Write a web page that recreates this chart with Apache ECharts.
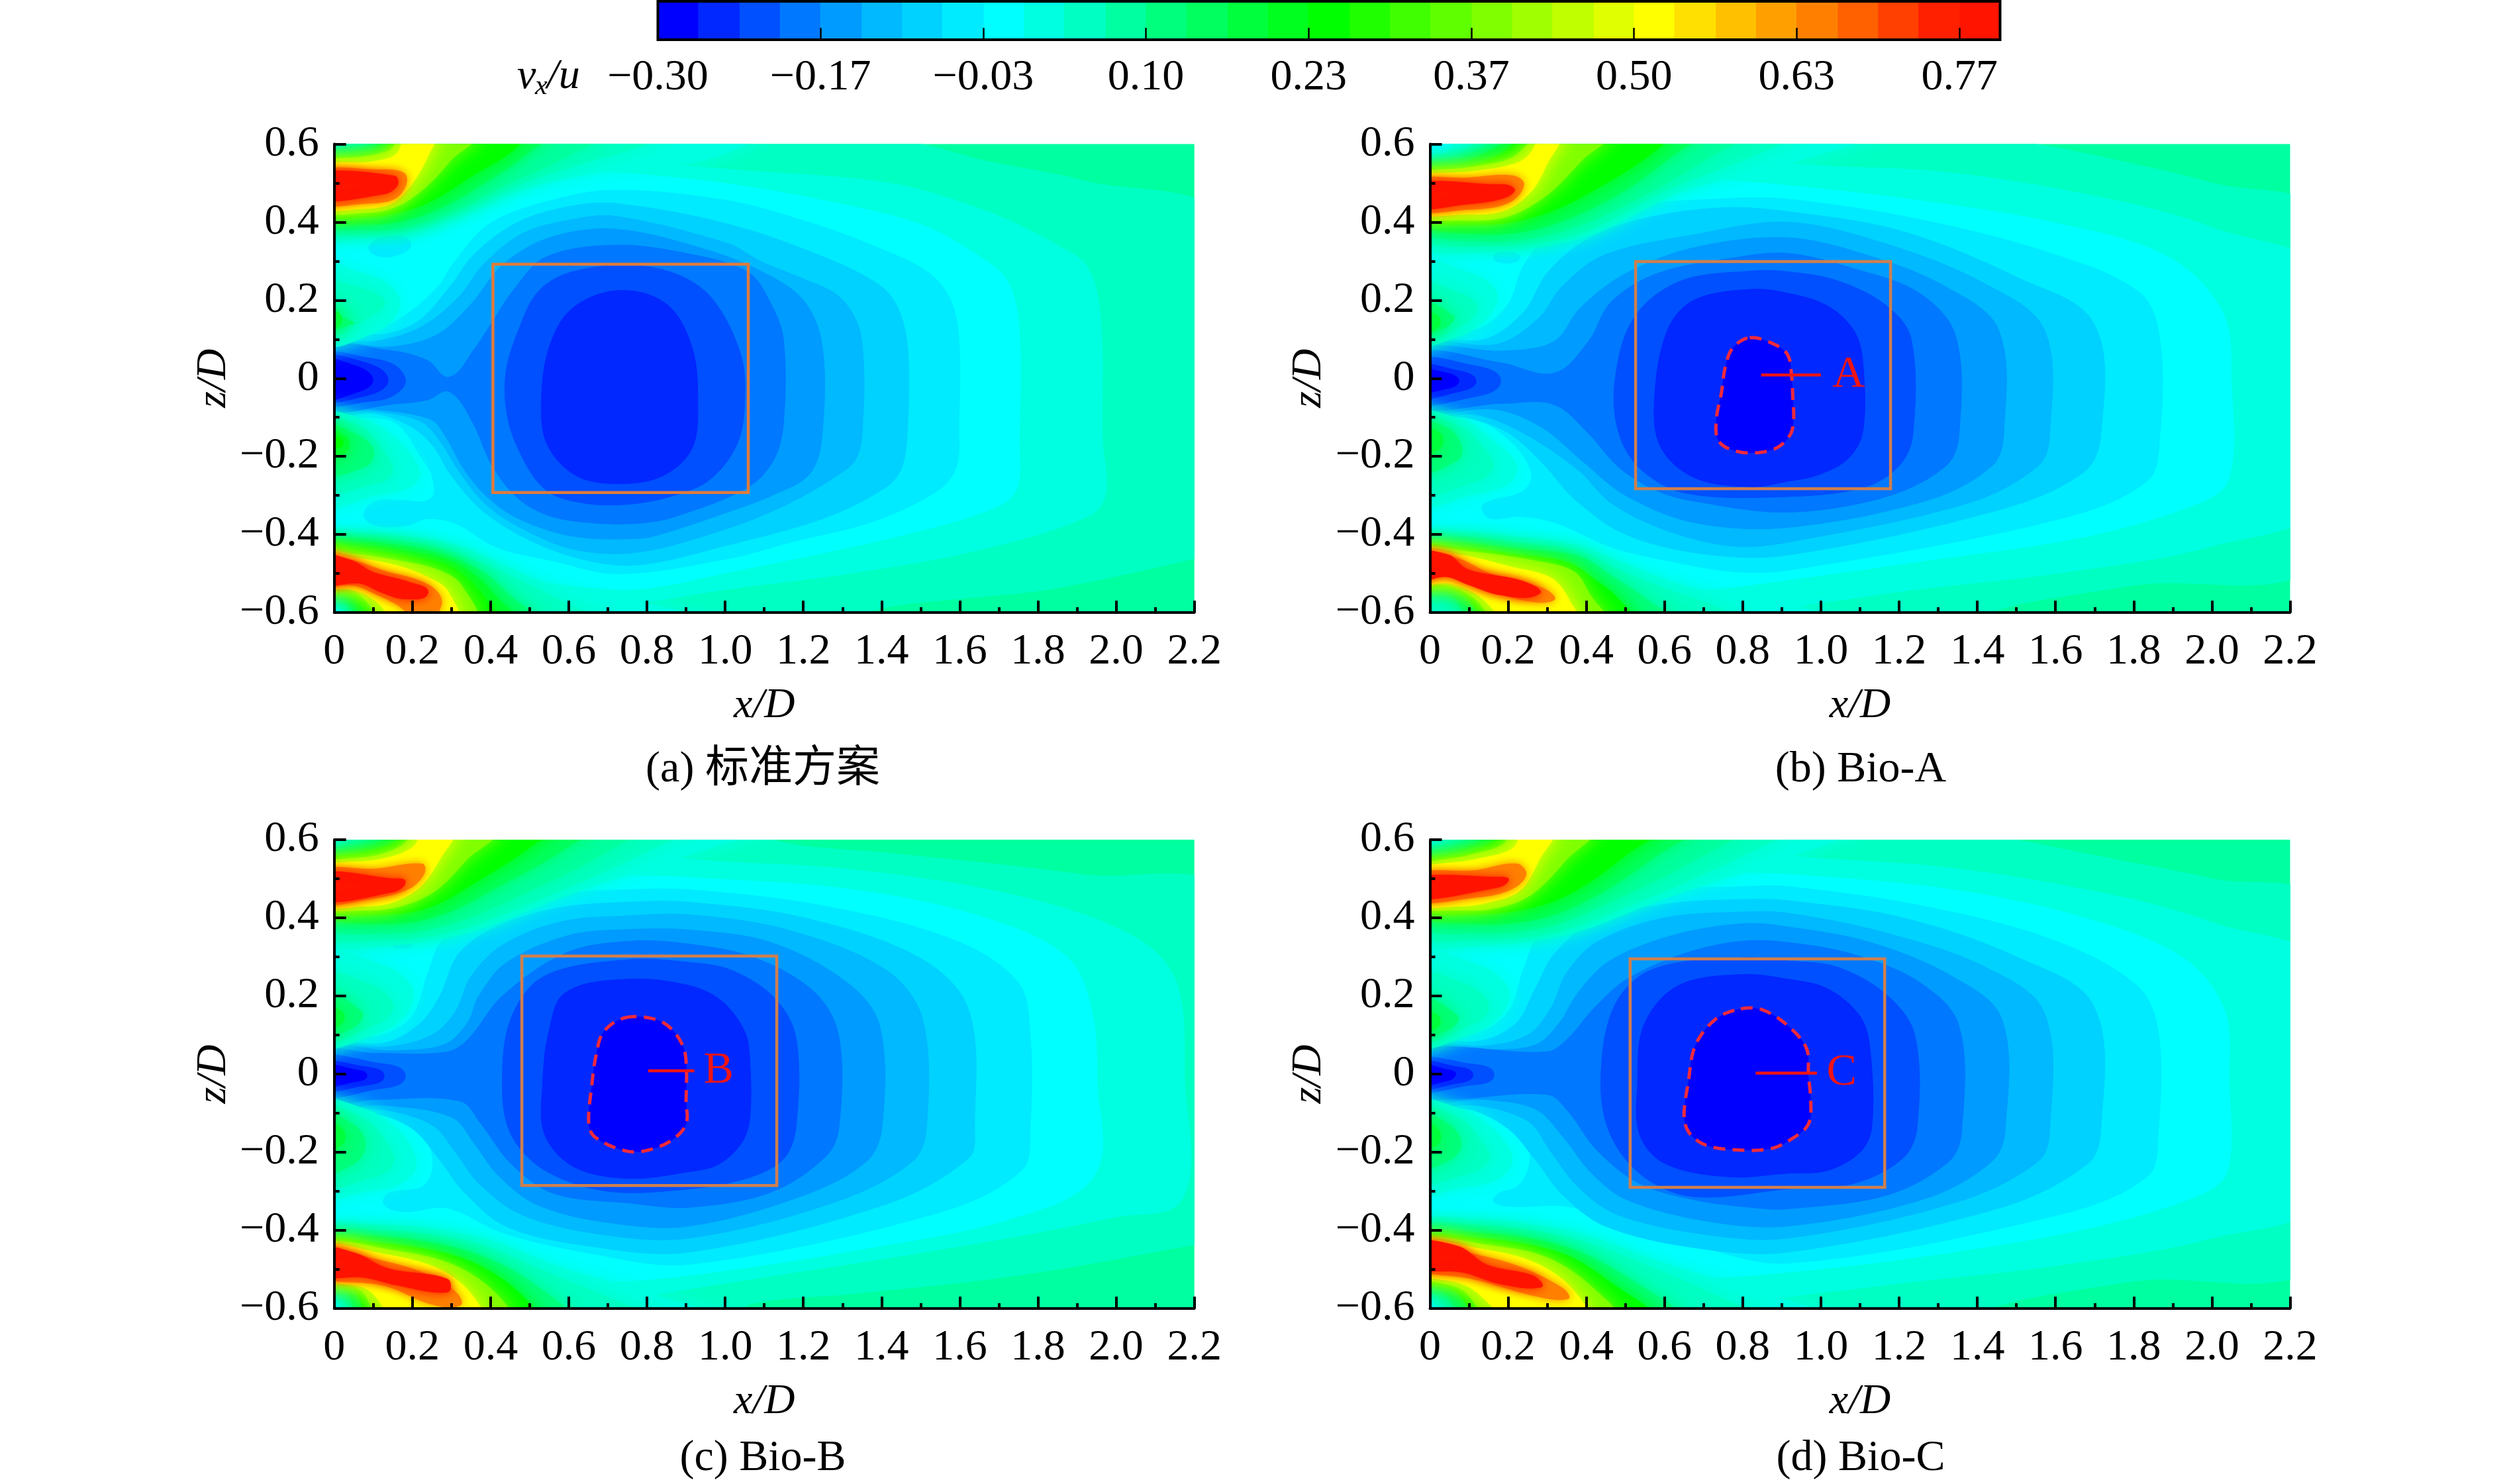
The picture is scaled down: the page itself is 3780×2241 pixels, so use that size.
<!DOCTYPE html>
<html><head><meta charset="utf-8"><style>html,body{margin:0;background:#fff}#c{width:3780px;height:2241px}</style>
<script src="https://cdn.jsdelivr.net/npm/echarts@6/dist/echarts.min.js"></script></head><body><div id="c"></div>
<script>
// colour of each contour level, lowest (-0.30) to highest
const levelColors=['#0000ff','#0028ff','#0050ff','#0078ff','#009bff','#00b9ff','#00d2ff','#00ebff','#00ffff','#00ffe1','#00ffc3','#00ffa0','#00ff7d','#00ff5f','#00ff3c','#00ff1e','#00ff00','#20ff00','#40ff00','#60ff00','#80ff00','#a0ff00','#c0ff00','#e0ff00','#ffff00','#ffe000','#ffc000','#ffa000','#ff8000','#ff6000','#ff4000','#ff2000','#ff1400'];
const cbLevels=[-0.30,-0.267,-0.233,-0.2,-0.167,-0.133,-0.1,-0.067,-0.033,0,0.033,0.067,0.1,0.133,0.167,0.2,0.233,0.267,0.3,0.333,0.367,0.4,0.433,0.467,0.5,0.533,0.567,0.6,0.633,0.667,0.7,0.733,0.767];
const cbTop=0.8;
const cbTicks=[-0.1667,-0.0333,0.1,0.2333,0.3667,0.5,0.6333,0.7667];
const cbLabels=[-0.30,-0.1667,-0.0333,0.1,0.2333,0.3667,0.5,0.6333,0.7667];
const captions=['(a) 标准方案','(b) Bio-A','(c) Bio-B','(d) Bio-C'];
// contour bands: [level, x,z, x,z, ...] in x/D, z/D, painted in order
const bandsA=[
[10,2.3,.38,1.912,.507,1.665,.557,1.5,.6,1.25,.64,-.05,.66,-.05,-.66,1.25,-.63,1.42,-.585,1.583,-.566,1.83,-.54,2.2,-.462,2.3,-.43],
[9,-.05,.66,.4,.62,.7,.565,1.008,.535,1.419,.5,1.665,.429,1.846,.343,1.928,.282,1.961,.144,1.965,-.159,1.974,-.289,1.937,-.349,1.665,-.436,1.337,-.497,1.008,-.54,.78,-.575,.5,-.6,.3,-.64,-.05,-.66],
[8,-.05,.64,.1,.64,.3,.58,.5,.54,.75,.525,1.008,.498,1.254,.455,1.5,.394,1.657,.308,1.723,.247,1.752,.126,1.752,-.159,1.743,-.289,1.665,-.341,1.419,-.41,1.008,-.497,.78,-.54,.6,-.53,.4,-.5,.2,-.5,0,-.64,-.05,-.64],
[7,0,.095,.12,.13,.2,.175,.27,.24,.3,.288,.396,.395,.552,.455,.72,.482,1.008,.455,1.213,.4,1.378,.34,1.517,.273,1.575,.204,1.598,.1,1.598,-.116,1.591,-.228,1.542,-.289,1.378,-.367,1.172,-.419,1.008,-.462,.726,-.501,.556,-.467,.415,-.433,.308,-.371,.234,-.36,.189,-.377,.105,-.377,.076,-.349,.105,-.315,.161,-.312,.246,-.309,.251,-.253,.218,-.196,.161,-.117,.08,-.1,0,-.097],
[6,0,.09,.14,.115,.22,.15,.3,.24,.36,.32,.47,.4,.6,.44,.72,.448,1.008,.395,1.254,.31,1.394,.239,1.443,.178,1.467,.074,1.467,-.116,1.452,-.228,1.41,-.28,1.254,-.358,1.008,-.427,.78,-.478,.64,-.465,.5,-.415,.38,-.34,.3,-.25,.25,-.17,.19,-.12,.1,-.09,0,-.09],
[5,0,.083,.104,.095,.22,.13,.32,.21,.38,.29,.48,.37,.6,.405,.72,.415,1.008,.345,1.09,.3,1.197,.256,1.287,.213,1.337,.144,1.353,.057,1.353,-.09,1.337,-.202,1.279,-.254,1.156,-.324,1.008,-.384,.782,-.445,.62,-.44,.49,-.39,.39,-.325,.32,-.24,.27,-.16,.22,-.11,.1,-.085,0,-.085],
[4,0,.08,.14,.08,.26,.11,.35,.19,.43,.29,.55,.36,.72,.382,.95,.33,1.1,.27,1.2,.2,1.247,.09,1.25,-.12,1.22,-.24,1.12,-.3,1,-.345,.85,-.395,.782,-.41,.613,-.405,.472,-.36,.387,-.3,.33,-.23,.285,-.15,.246,-.105,.1,-.08,0,-.078],
[3,.294,.003,.357,.073,.406,.147,.454,.22,.54,.31,.72,.341,.9,.32,1.057,.273,1.115,.195,1.149,.1,1.149,-.116,1.123,-.211,1.057,-.28,.873,-.354,.782,-.371,.67,-.371,.556,-.354,.472,-.309,.404,-.224,.353,-.111,.294,-.034,.24,-.055,.172,-.064,0,-.07,0,.073,.15,.07,.24,.045],
[2,.75,.29,.88,.265,.97,.2,1.04,.06,1.05,-.06,1.03,-.17,.96,-.26,.87,-.3,.76,-.322,.64,-.32,.54,-.285,.47,-.18,.44,-.08,.44,.02,.47,.12,.52,.22,.6,.27],
[1,.73,.225,.85,.19,.915,.08,.93,-.06,.915,-.18,.84,-.25,.73,-.27,.62,-.25,.545,-.17,.53,-.06,.55,.08,.61,.18],
[2,0,.056,.1,.05,.16,.03,.182,-.01,.15,-.045,.1,-.058,0,-.058],
[1,0,.05,.08,.04,.138,-.005,.08,-.045,0,-.05],
[0,0,.045,.06,.03,.099,-.005,.06,-.035,0,-.053],
[7,.09,.34,.14,.368,.196,.345,.15,.312,.1,.318],
[9,0,.095,.11,.12,.167,.185,.14,.24,.05,.275,0,.3],[10,0,.11,.11,.168,.127,.2,.054,.235,0,.242],[12,0,.12,.05,.14,.037,.15,0,.18],[14,0,.125,.02,.15,0,.18],
[9,0,-.1,.076,-.106,.161,-.157,.218,-.236,.2,-.275,.105,-.3,0,-.32],[10,0,-.11,.06,-.12,.12,-.18,.15,-.24,.105,-.27,0,-.28],[12,0,-.12,.048,-.14,.099,-.18,.082,-.225,0,-.24],[14,0,-.13,.03,-.15,.03,-.19,0,-.21],[16,0,-.14,.018,-.155,.018,-.175,0,-.18],
[9,0,.565,.03,.59,.06,.64,1.1,.64,.95,.56,.7,.53,.5,.49,.33,.42,.2,.375,.1,.365,0,.37],
[10,0,.56,.02,.585,.09,.64,.85,.64,.8,.6,.65,.555,.47,.495,.33,.43,.2,.382,.1,.372,0,.39],
[11,0,.555,.03,.575,.09,.6,.12,.64,.7,.64,.6,.57,.45,.5,.33,.44,.2,.39,.1,.38,0,.41],
[13,0,.55,.05,.57,.1,.585,.14,.64,.56,.64,.5,.58,.4,.51,.3,.45,.2,.41,.1,.395,0,.42],
[16,0,.545,.06,.565,.13,.58,.16,.64,.49,.64,.464,.589,.347,.515,.26,.46,.2,.435,.1,.415,0,.43],
[20,0,.54,.09,.57,.15,.59,.17,.64,.37,.64,.3,.56,.24,.495,.17,.445,.09,.425,0,.438],
[24,0,.534,.1,.555,.16,.575,.19,.64,.26,.64,.24,.57,.2,.5,.15,.45,.08,.435,0,.445],
[28,0,.526,.11,.534,.178,.526,.184,.497,.155,.46,.082,.448,0,.452],
[32,0,.522,.155,.518,.161,.493,.127,.472,0,.46],
[9,0,-.422,.076,-.402,.218,-.41,.33,-.433,.444,-.484,.556,-.53,.726,-.569,.839,-.586,1,-.64,.06,-.64,.03,-.6,0,-.555],
[10,0,-.43,.07,-.41,.22,-.425,.33,-.455,.46,-.51,.6,-.58,.72,-.64,.07,-.64,.02,-.56,0,-.55],
[12,0,-.436,.06,-.42,.218,-.436,.308,-.462,.387,-.501,.444,-.552,.528,-.64,.082,-.64,.025,-.552,0,-.54],
[14,0,-.438,.058,-.428,.218,-.448,.3,-.47,.37,-.512,.42,-.565,.48,-.64,.1,-.64,.036,-.552,0,-.538],
[16,0,-.44,.054,-.436,.218,-.461,.291,-.479,.353,-.524,.398,-.58,.44,-.64,.13,-.64,.048,-.552,.02,-.535,0,-.535],
[20,0,-.444,.048,-.45,.161,-.467,.263,-.49,.325,-.53,.36,-.64,.144,-.64,.076,-.563,.025,-.535,0,-.532],
[24,0,-.449,.048,-.459,.161,-.48,.246,-.513,.291,-.546,.314,-.64,.178,-.64,.105,-.569,.048,-.541,0,-.529],
[28,0,-.453,.048,-.467,.133,-.495,.217,-.518,.263,-.546,.274,-.58,.235,-.63,.161,-.58,.105,-.552,.048,-.53,0,-.527],
[32,0,-.455,.04,-.465,.10,-.497,.19,-.522,.24,-.55,.18,-.565,.12,-.548,.065,-.525,0,-.525]
];
const bandsB=[
[10,2.3,.4,2,.5,1.75,.56,1.55,.6,1.3,.64,-.05,.66,-.05,-.66,1.3,-.64,1.5,-.58,1.8,-.53,2.3,-.44],
[9,-.05,.66,.3,.66,.5,.6,.915,.55,1.336,.526,1.757,.455,2.01,.383,2.3,.25,2.3,-.3,2,-.43,1.6,-.5,1.25,-.54,.915,-.585,.5,-.62,-.05,-.66],
[8,-.05,.64,.1,.64,.3,.58,.5,.52,.7,.51,.915,.494,1.252,.455,1.589,.4,1.884,.313,2.027,.17,2.05,-.019,2.044,-.256,1.968,-.319,1.674,-.406,1.252,-.469,.915,-.516,.7,-.54,.5,-.52,.35,-.5,.2,-.5,0,-.64,-.05,-.64],
[7,0,.09,.12,.125,.2,.19,.24,.29,.33,.39,.5,.44,.75,.46,.915,.459,1.252,.407,1.589,.32,1.817,.218,1.867,.099,1.867,-.145,1.834,-.264,1.589,-.366,.915,-.492,.774,-.495,.605,-.467,.464,-.433,.323,-.371,.232,-.354,.153,-.359,.133,-.331,.153,-.314,.232,-.292,.26,-.252,.227,-.184,.153,-.122,.08,-.1,0,-.095],
[6,0,.085,.14,.1,.24,.17,.3,.27,.4,.355,.55,.41,.75,.437,.915,.427,1.21,.376,1.505,.257,1.699,.139,1.716,-.145,1.673,-.24,1.463,-.335,.915,-.453,.7,-.45,.5,-.4,.37,-.31,.29,-.22,.2,-.14,.09,-.1,0,-.085],
[5,0,.08,.171,.087,.278,.154,.337,.234,.444,.315,.677,.368,.915,.4,1.168,.344,1.42,.242,1.572,.123,1.585,-.145,1.556,-.224,1.379,-.319,.915,-.42,.774,-.43,.605,-.39,.464,-.32,.379,-.235,.24,-.141,.123,-.094,0,-.08],
[4,0,.067,.19,.07,.317,.094,.385,.181,.5,.268,.677,.335,.915,.36,1.126,.313,1.32,.234,1.455,.123,1.467,-.145,1.438,-.224,1.278,-.311,.915,-.382,.677,-.37,.5,-.3,.385,-.208,.288,-.127,.171,-.08,0,-.074],
[3,.317,.013,.405,.094,.463,.195,.58,.268,.774,.308,.915,.32,1.084,.281,1.252,.218,1.345,.107,1.353,-.145,1.32,-.224,1.168,-.303,.915,-.343,.677,-.315,.58,-.288,.483,-.228,.405,-.141,.317,-.067,.191,-.064,0,-.067,0,.06,.18,.04],
[2,.823,.275,.915,.273,1.042,.25,1.168,.186,1.231,.1,1.235,-.145,1.2,-.224,1.109,-.28,.915,-.303,.657,-.295,.541,-.235,.483,-.141,.473,-.007,.521,.154,.638,.248],
[1,.823,.228,.915,.218,1.016,.186,1.084,.123,1.107,.044,1.107,-.137,1.067,-.208,.991,-.248,.915,-.264,.823,-.278,.677,-.255,.589,-.174,.575,-.04,.609,.127,.677,.201],
[2,0,.043,.1,.035,.181,-.007,.1,-.05,0,-.057],[1,0,.03,.07,.02,.118,-.007,.07,-.035,0,-.047],[0,0,.02,.05,.012,.074,-.007,.05,-.025,0,-.034],
[7,.162,.31,.195,.325,.23,.31,.195,.295],
[9,0,.095,.08,.11,.15,.16,.17,.22,.1,.27,0,.29],[10,0,.105,.07,.13,.12,.18,.07,.22,0,.24],[12,0,.11,.04,.13,.06,.16,0,.2],[14,0,.115,.02,.13,.02,.16,0,.175],
[9,0,-.1,.08,-.105,.16,-.16,.22,-.22,.2,-.27,.1,-.3,0,-.32],[10,0,-.105,.07,-.12,.13,-.17,.16,-.23,.1,-.27,0,-.29],[12,0,-.115,.04,-.125,.08,-.17,.07,-.21,0,-.24],[14,0,-.125,.025,-.14,.025,-.18,0,-.2],
[9,0,.535,.03,.565,.1,.64,1.15,.64,.95,.56,.65,.48,.4,.365,.15,.325,0,.35],
[10,0,.53,.05,.56,.14,.62,.16,.64,.95,.64,.85,.58,.6,.48,.38,.37,.15,.34,0,.37],
[11,0,.525,.06,.555,.16,.61,.19,.64,.82,.64,.72,.57,.55,.47,.35,.38,.15,.35,0,.395],
[13,0,.52,.08,.55,.18,.6,.21,.64,.7,.64,.62,.57,.48,.47,.3,.39,.14,.37,0,.41],
[16,0,.515,.09,.54,.2,.585,.235,.64,.62,.64,.58,.586,.434,.49,.288,.42,.142,.395,0,.42],
[20,0,.51,.1,.54,.2,.56,.25,.6,.27,.64,.46,.64,.39,.56,.3,.47,.2,.415,.09,.405,0,.425],
[24,0,.506,.113,.53,.22,.55,.26,.58,.29,.64,.34,.64,.3,.55,.26,.48,.19,.43,.09,.42,0,.43],
[28,0,.503,.093,.513,.21,.519,.24,.496,.2,.449,.093,.432,0,.435],
[32,0,.496,.16,.496,.215,.486,.19,.462,.094,.446,0,.439],
[9,0,-.415,.063,-.395,.21,-.405,.379,-.43,.5,-.475,.63,-.525,.78,-.56,.93,-.58,1.05,-.64,.015,-.64,0,-.56],
[10,0,-.424,.063,-.405,.21,-.419,.379,-.444,.492,-.495,.605,-.54,.718,-.58,.83,-.64,.03,-.64,0,-.55],
[12,0,-.436,.063,-.421,.21,-.436,.379,-.455,.464,-.506,.549,-.563,.633,-.64,.12,-.64,.052,-.551,0,-.535],
[16,0,-.438,.069,-.433,.21,-.45,.351,-.472,.424,-.518,.48,-.563,.526,-.64,.159,-.64,.097,-.563,.04,-.534,0,-.53],
[20,0,-.441,.097,-.444,.266,-.467,.368,-.495,.407,-.551,.452,-.64,.187,-.64,.114,-.563,.04,-.529,0,-.525],
[24,0,-.444,.08,-.453,.21,-.484,.311,-.512,.356,-.568,.379,-.64,.22,-.64,.125,-.557,.052,-.526,0,-.52],
[28,0,-.45,.069,-.461,.153,-.5,.294,-.54,.317,-.568,.238,-.568,.142,-.54,.04,-.505,0,-.518],
[32,0,-.45,.046,-.452,.097,-.49,.238,-.52,.28,-.552,.181,-.555,.097,-.528,.04,-.508,0,-.52]
];
const bandsC=[
[10,2.3,.44,1.918,.51,1.412,.566,1.16,.59,1,.64,-.05,.66,-.05,-.66,.95,-.64,1.075,-.586,1.328,-.562,1.749,-.515,2.2,-.436,2.3,-.41],
[9,-.05,.66,.3,.66,.5,.6,.907,.55,1.328,.523,1.749,.456,2.044,.353,2.154,.235,2.175,-.018,2.17,-.318,2.002,-.365,1.581,-.444,.907,-.55,.5,-.62,-.05,-.66],
[8,-.05,.64,.1,.64,.3,.58,.5,.52,.7,.51,.907,.503,1.328,.472,1.665,.4,1.876,.298,1.939,.156,1.951,-.018,1.947,-.255,1.749,-.365,1.328,-.452,.907,-.515,.7,-.53,.5,-.51,.35,-.49,.2,-.5,0,-.64,-.05,-.64],
[7,0,.075,.12,.1,.2,.15,.24,.26,.28,.35,.38,.42,.55,.46,.75,.472,.907,.472,1.244,.432,1.581,.345,1.749,.235,1.78,.1,1.78,-.136,1.758,-.247,1.539,-.357,.907,-.487,.646,-.457,.43,-.406,.29,-.343,.182,-.352,.128,-.335,.138,-.305,.225,-.288,.252,-.238,.236,-.17,.16,-.086,0,-.085],
[6,0,.07,.13,.08,.22,.13,.27,.2,.32,.31,.42,.38,.57,.425,.75,.44,.907,.44,1.202,.4,1.497,.298,1.623,.164,1.638,-.136,1.623,-.215,1.412,-.333,.907,-.456,.65,-.44,.44,-.39,.33,-.3,.27,-.22,.2,-.14,.1,-.1,0,-.085],
[5,0,.065,.14,.07,.25,.1,.31,.16,.35,.25,.43,.33,.58,.39,.75,.405,.907,.408,1.16,.369,1.412,.266,1.505,.14,1.515,-.136,1.48,-.223,1.286,-.326,.907,-.42,.68,-.41,.48,-.36,.37,-.28,.31,-.2,.25,-.13,.12,-.09,0,-.08],
[4,0,.06,.15,.06,.28,.075,.34,.13,.37,.2,.44,.285,.6,.355,.75,.37,.907,.369,1.117,.337,1.311,.235,1.395,.124,1.401,-.136,1.362,-.223,1.202,-.31,.907,-.389,.7,-.38,.52,-.335,.42,-.26,.36,-.18,.3,-.11,.13,-.08,0,-.075],
[3,0,.053,.106,.053,.29,.057,.344,.091,.43,.2,.592,.31,.754,.34,.907,.333,1.075,.298,1.227,.211,1.29,.1,1.292,-.128,1.261,-.207,1.118,-.302,.907,-.341,.754,-.33,.56,-.305,.452,-.229,.376,-.128,.322,-.069,.106,-.065,0,-.069],
[2,.754,.293,.907,.286,1.016,.266,1.126,.195,1.181,.093,1.182,-.128,1.151,-.215,1.058,-.266,.907,-.294,.7,-.3,.538,-.246,.452,-.154,.43,-.027,.452,.142,.538,.251],
[1,.754,.243,.907,.227,.991,.187,1.05,.109,1.063,.037,1.063,-.112,1.042,-.176,.983,-.231,.907,-.25,.754,-.267,.614,-.238,.538,-.154,.533,-.027,.549,.108,.592,.209],
[2,0,.039,.1,.03,.182,-.005,.1,-.04,0,-.052],[1,0,.028,.07,.02,.128,-.005,.07,-.03,0,-.04],[0,0,.023,.05,.012,.084,-.004,.05,-.02,0,-.031],
[7,.15,.33,.18,.34,.2,.33,.18,.322],
[9,0,.08,.1,.1,.18,.15,.2,.22,.12,.28,0,.3],[10,0,.09,.09,.12,.15,.17,.09,.23,0,.25],[12,0,.1,.05,.12,.07,.16,0,.21],[14,0,.105,.02,.13,.02,.16,0,.18],
[9,0,-.08,.08,-.09,.17,-.15,.21,-.23,.17,-.28,.08,-.3,0,-.31],[10,0,-.09,.07,-.11,.13,-.17,.15,-.23,.08,-.27,0,-.28],[12,0,-.1,.05,-.13,.08,-.18,.05,-.23,0,-.25],[14,0,-.11,.02,-.14,.02,-.18,0,-.2],
[9,0,.55,.02,.59,.07,.64,1.1,.64,.9,.56,.6,.46,.35,.365,.14,.33,0,.345],
[10,0,.545,.03,.585,.1,.64,.9,.64,.78,.56,.53,.45,.32,.37,.14,.345,0,.365],
[11,0,.54,.05,.58,.13,.62,.14,.64,.78,.64,.68,.56,.48,.46,.3,.385,.14,.36,0,.39],
[13,0,.535,.07,.575,.15,.61,.17,.64,.66,.64,.58,.57,.42,.48,.28,.41,.14,.385,0,.42],
[16,0,.53,.09,.57,.17,.6,.2,.64,.56,.64,.5,.58,.36,.49,.25,.43,.14,.41,0,.43],
[20,0,.525,.11,.56,.18,.59,.21,.64,.42,.64,.34,.55,.26,.47,.17,.43,.08,.42,0,.435],
[24,0,.52,.12,.55,.2,.58,.24,.64,.31,.64,.27,.55,.22,.48,.15,.44,.08,.43,0,.437],
[28,0,.517,.106,.525,.225,.538,.23,.513,.192,.475,.095,.449,0,.441],
[32,0,.512,.149,.5,.182,.492,.149,.466,0,.445],
[9,0,-.405,.1,-.385,.36,-.415,.58,-.495,.8,-.56,1,-.64,.03,-.64,.01,-.58,0,-.555],
[10,0,-.42,.1,-.4,.35,-.43,.55,-.51,.72,-.58,.85,-.64,.05,-.64,.02,-.57,0,-.545],
[12,0,-.43,.1,-.415,.33,-.45,.5,-.53,.6,-.64,.07,-.64,.03,-.55,0,-.53],
[16,0,-.434,.106,-.432,.322,-.47,.462,-.55,.516,-.64,.1,-.64,.05,-.55,0,-.525],
[20,0,-.436,.16,-.453,.311,-.491,.419,-.567,.452,-.64,.13,-.64,.065,-.55,0,-.52],
[24,0,-.44,.128,-.461,.268,-.499,.354,-.567,.376,-.64,.17,-.64,.084,-.55,0,-.516],
[28,0,-.444,.106,-.474,.225,-.508,.311,-.558,.322,-.592,.246,-.588,.128,-.541,0,-.512],
[32,0,-.445,.052,-.458,.138,-.498,.29,-.525,.29,-.558,.16,-.54,.074,-.52,0,-.512]
];
const bandsD=[
[10,2.3,.42,2,.5,1.75,.55,1.5,.6,1.3,.64,-.05,.66,-.05,-.66,1.3,-.64,1.5,-.58,1.8,-.53,2.3,-.45],
[9,-.05,.66,.3,.66,.5,.6,.915,.558,1.336,.527,1.757,.456,2.01,.385,2.3,.26,2.3,-.3,2,-.42,1.6,-.49,1.25,-.53,.915,-.57,.5,-.62,-.05,-.66],
[8,-.05,.64,.1,.64,.3,.58,.5,.525,.7,.515,.915,.511,1.336,.472,1.673,.4,1.926,.298,2.032,.164,2.044,-.018,2.04,-.247,1.968,-.31,1.673,-.397,1.252,-.468,.915,-.507,.7,-.52,.5,-.5,.35,-.48,.2,-.5,0,-.64,-.05,-.64],
[7,0,.08,.12,.105,.2,.16,.24,.27,.28,.36,.38,.43,.58,.47,.8,.48,.915,.48,1.252,.432,1.589,.345,1.808,.227,1.863,.108,1.863,-.144,1.834,-.263,1.589,-.365,.915,-.484,.655,-.432,.472,-.381,.353,-.339,.212,-.339,.164,-.327,.175,-.305,.223,-.288,.25,-.246,.255,-.196,.223,-.112,.1,-.09,0,-.085],
[6,0,.072,.13,.085,.22,.13,.27,.22,.32,.31,.42,.39,.6,.435,.8,.447,.915,.444,1.21,.4,1.505,.298,1.699,.172,1.716,-.144,1.682,-.23,1.463,-.341,.915,-.456,.68,-.445,.45,-.39,.34,-.31,.27,-.22,.2,-.14,.1,-.09,0,-.075],
[5,0,.067,.14,.072,.25,.1,.31,.17,.35,.26,.43,.34,.6,.4,.8,.415,.915,.412,1.168,.361,1.42,.274,1.572,.156,1.585,-.144,1.556,-.223,1.353,-.326,.915,-.42,.7,-.41,.48,-.36,.38,-.29,.31,-.2,.25,-.12,.12,-.08,0,-.07],
[4,0,.062,.15,.062,.27,.075,.33,.13,.38,.21,.46,.29,.62,.355,.8,.385,.915,.377,1.126,.337,1.336,.25,1.463,.14,1.471,-.144,1.438,-.223,1.269,-.318,.915,-.389,.7,-.375,.5,-.32,.41,-.25,.34,-.16,.27,-.09,.14,-.065,0,-.06],
[3,0,.057,.3,.057,.353,.091,.418,.167,.504,.243,.655,.31,.796,.34,.915,.337,1.084,.306,1.252,.235,1.353,.124,1.36,-.144,1.328,-.223,1.168,-.31,.915,-.345,.839,-.343,.677,-.322,.536,-.28,.428,-.196,.353,-.095,.3,-.052,0,-.052],
[2,.796,.298,.915,.29,1.042,.274,1.168,.203,1.24,.1,1.246,-.136,1.21,-.215,1.084,-.28,.915,-.294,.677,-.314,.547,-.263,.461,-.154,.437,-.01,.472,.175,.569,.268],
[1,.796,.255,.915,.243,1.016,.219,1.1,.148,1.126,.061,1.13,-.136,1.1,-.2,1.016,-.247,.915,-.254,.763,-.263,.601,-.229,.536,-.154,.531,-.027,.547,.125,.634,.226],
[2,0,.036,.09,.028,.164,-.002,.09,-.03,0,-.04],[1,0,.032,.06,.02,.11,-.002,.06,-.025,0,-.036],[0,0,.028,.04,.012,.066,0,.04,-.018,0,-.027],
[9,0,.08,.1,.1,.18,.15,.2,.22,.12,.28,0,.3],[10,0,.09,.09,.12,.15,.17,.09,.23,0,.25],[12,0,.095,.05,.115,.07,.15,0,.2],[14,0,.1,.02,.12,.02,.15,0,.17],
[9,0,-.08,.08,-.09,.17,-.15,.21,-.22,.17,-.27,.08,-.29,0,-.3],[10,0,-.09,.07,-.11,.13,-.17,.15,-.22,.08,-.26,0,-.27],[12,0,-.1,.05,-.13,.08,-.18,.05,-.22,0,-.24],[14,0,-.11,.02,-.14,.02,-.18,0,-.2],
[9,0,.545,.02,.585,.07,.64,1.1,.64,.9,.55,.6,.45,.36,.36,.13,.33,0,.345],
[10,0,.54,.03,.58,.1,.64,.92,.64,.78,.55,.53,.44,.33,.365,.13,.345,0,.365],
[11,0,.535,.05,.575,.12,.62,.135,.64,.8,.64,.68,.55,.48,.45,.31,.38,.13,.36,0,.39],
[13,0,.53,.07,.57,.15,.61,.165,.64,.68,.64,.58,.56,.43,.46,.29,.4,.13,.385,0,.42],
[16,0,.525,.09,.565,.17,.6,.19,.64,.59,.64,.504,.563,.385,.477,.277,.43,.115,.41,0,.43],
[20,0,.518,.1,.56,.19,.59,.21,.64,.42,.64,.35,.55,.26,.46,.17,.425,.08,.42,0,.437],
[24,0,.513,.12,.55,.215,.58,.24,.64,.32,.64,.28,.55,.23,.47,.15,.44,.08,.43,0,.44],
[28,0,.508,.115,.521,.223,.538,.245,.508,.201,.47,.115,.452,0,.445],
[32,0,.5,.169,.504,.201,.496,.158,.475,0,.449],
[9,0,-.39,.1,-.37,.37,-.405,.6,-.485,.85,-.56,1.05,-.64,.03,-.64,.01,-.58,0,-.54],
[10,0,-.405,.1,-.385,.36,-.42,.58,-.5,.76,-.58,.88,-.64,.05,-.64,.02,-.57,0,-.53],
[12,0,-.418,.1,-.405,.34,-.44,.52,-.53,.64,-.64,.09,-.64,.04,-.56,0,-.515],
[16,0,-.424,.115,-.419,.331,-.457,.461,-.533,.57,-.64,.14,-.64,.065,-.555,0,-.51],
[20,0,-.424,.16,-.44,.3,-.47,.42,-.55,.48,-.64,.17,-.64,.08,-.55,0,-.505],
[24,0,-.428,.137,-.449,.266,-.482,.364,-.55,.401,-.64,.2,-.62,.093,-.541,0,-.499],
[28,0,-.432,.093,-.457,.223,-.491,.342,-.55,.353,-.575,.266,-.567,.115,-.525,0,-.491],
[32,0,-.432,.072,-.441,.147,-.489,.266,-.517,.285,-.545,.18,-.537,.083,-.507,0,-.492]
];
const allBands=[bandsA,bandsB,bandsC,bandsD];
// orange measuring boxes [x0,x1,z1,z0]
const boxes=[[.406,1.059,.292,-.2925],[.526,1.178,.299,-.283],[.48,1.132,.302,-.285],[.512,1.163,.295,-.29]];
// dashed low-velocity outlines
const outlineB=[.818,.104,.881,.087,.915,.06,.925,.007,.928,-.047,.93,-.107,.92,-.147,.881,-.181,.813,-.191,.759,-.178,.735,-.154,.733,-.1,.745,-.04,.755,.027,.774,.077];
const outlineC=[.743,.144,.819,.141,.862,.116,.894,.066,.901,.007,.9,-.069,.9,-.128,.862,-.17,.797,-.196,.743,-.196,.668,-.162,.651,-.128,.659,-.027,.67,.049,.689,.108];
const outlineD=[.795,.167,.849,.165,.914,.125,.963,.066,.968,-.002,.974,-.069,.968,-.128,.925,-.166,.871,-.191,.785,-.194,.709,-.183,.666,-.154,.65,-.111,.661,-.019,.679,.074,.731,.141];
const outlines=[null,outlineB,outlineC,outlineD];
// leader lines [x0,x1,z], letter and its x
const leaders=[null,[.847,1,.0086],[.803,.921,.0084],[.833,.99,.0025]];
const leaderText=[null,['A',1.071],['B',.983],['C',1.053]];

const serif='"Liberation Serif","Noto Sans CJK SC",serif';
const layout=[{left:504.7,top:217.5,w:1299,h:707.5,cx:1152,cy:1163},{left:2159.5,top:217.5,w:1299,h:707.5,cx:2810,cy:1163},{left:504.7,top:1268,w:1299,h:708,cx:1152,cy:2203},{left:2159.5,top:1268,w:1299,h:708,cx:2810,cy:2203}];

function spline(p){ // closed smooth curve through pixel points
  const n=p.length,out=[];
  const tan=p.map((q,i)=>{const a=p[(i-1+n)%n],b=p[(i+1)%n];const dx=b[0]-a[0],dy=b[1]-a[1],l=Math.hypot(dx,dy)||1;return[dx/l,dy/l];});
  for(let i=0;i<n;i++){
    const a=p[i],b=p[(i+1)%n],d=Math.hypot(b[0]-a[0],b[1]-a[1])/3,ta=tan[i],tb=tan[(i+1)%n];
    const c1=[a[0]+ta[0]*d,a[1]+ta[1]*d],c2=[b[0]-tb[0]*d,b[1]-tb[1]*d];
    for(let k=0;k<10;k++){const t=k/10,u=1-t;out.push([u*u*u*a[0]+3*u*u*t*c1[0]+3*u*t*t*c2[0]+t*t*t*b[0],u*u*u*a[1]+3*u*u*t*c1[1]+3*u*t*t*c2[1]+t*t*t*b[1]]);}
  }
  return out;
}
function pts(api,flat){const r=[];for(let i=0;i<flat.length;i+=2){const x=flat[i]<=0?-.06:flat[i];r.push(api.coord([x,flat[i+1]]));}return r;}

const grids=[],xAxes=[],yAxes=[],series=[],graphic=[];
const axisFont={fontFamily:serif,fontSize:66,color:'#000'};
const fmt=v=>{if(Math.abs(v)<1e-9)return'0';return(v<0?'\u2212':'')+Math.abs(v).toFixed(1);};
layout.forEach((L,i)=>{
  grids.push({left:L.left,top:L.top,width:L.w,height:L.h,show:true,borderWidth:0,backgroundColor:levelColors[11]});
  const common={type:'value',z:5,splitLine:{show:false},axisLine:{onZero:false,lineStyle:{color:'#000',width:4}},
    axisTick:{inside:true,length:18,lineStyle:{color:'#000',width:4}},minorTick:{show:true,splitNumber:2,length:8,lineStyle:{color:'#000',width:4}},minorSplitLine:{show:false}};
  xAxes.push({...common,gridIndex:i,position:'bottom',min:0,max:2.2,interval:.2,axisLabel:{...axisFont,margin:27,formatter:fmt,showMaxLabel:true,showMinLabel:true},
    name:'x/D',nameLocation:'middle',nameGap:109,nameTextStyle:{fontFamily:serif,fontStyle:'italic',fontSize:64,color:'#000'}});
  yAxes.push({...common,gridIndex:i,position:'left',min:-.6,max:.6,interval:.2,axisLabel:{...axisFont,margin:23,padding:[14,0,0,0],formatter:fmt,showMaxLabel:true,showMinLabel:true},
    name:'z/D',nameLocation:'middle',nameGap:150,nameTextStyle:{fontFamily:serif,fontStyle:'italic',fontSize:64,color:'#000'}});
  const bands=allBands[i];
  series.push({type:'custom',xAxisIndex:i,yAxisIndex:i,z:1,clip:true,silent:true,animation:false,
    data:bands.map(b=>[b[1],b[2]]),encode:{x:0,y:1},
    renderItem:(p,api)=>{const b=bands[p.dataIndex],col=levelColors[b[0]];
      const soft=p.dataIndex>=3&&b[0]>=9; // the jets are a fine gradient: soften their steps
      return{type:'polygon',shape:{points:spline(pts(api,b.slice(1)))},style:{fill:col,stroke:col,lineWidth:1,shadowColor:soft?col:'transparent',shadowBlur:soft?(b[0]>=28?14:28):0}};}});
  series.push({type:'custom',xAxisIndex:i,yAxisIndex:i,z:3,silent:true,animation:false,data:[[boxes[i][0],boxes[i][2]]],encode:{x:0,y:1},
    renderItem:(p,api)=>{
      const c=[];const b=boxes[i];
      const tl=api.coord([b[0],b[2]]),br=api.coord([b[1],b[3]]);
      if(outlines[i]){
        const r=[];for(let k=0;k<outlines[i].length;k+=2)r.push(api.coord([outlines[i][k],outlines[i][k+1]]));
        c.push({type:'polygon',shape:{points:spline(r)},style:{fill:levelColors[0],stroke:'#ee2a3c',lineWidth:5,lineDash:[18,11]}});
        const l=leaders[i],a=api.coord([l[0],l[2]]),e=api.coord([l[1],l[2]]);
        c.push({type:'line',shape:{x1:a[0],y1:a[1],x2:e[0],y2:e[1]},style:{stroke:'#f01414',lineWidth:4.5}});
        const t=api.coord([leaderText[i][1],l[2]]);
        c.push({type:'text',x:t[0],y:t[1],style:{text:leaderText[i][0],fontFamily:serif,fontSize:68,fill:'#f01414',align:'center',verticalAlign:'middle'}});
      }
      c.push({type:'rect',shape:{x:tl[0],y:tl[1],width:br[0]-tl[0],height:br[1]-tl[1]},style:{fill:'none',stroke:i?'#cf7f4e':'#e07b3c',lineWidth:4.5}});
      return{type:'group',children:c};
    }});
  graphic.push({type:'text',x:L.cx,y:L.cy,style:{text:captions[i],fontFamily:serif,fontSize:66,fill:'#000',align:'center',verticalAlign:'middle'}});
});
// colour bar
grids.push({left:993.5,top:2,width:2027,height:58});
xAxes.push({type:'value',gridIndex:4,z:5,position:'bottom',min:-.3,max:cbTop,splitLine:{show:false},axisLine:{show:false,onZero:false},
  axisTick:{inside:true,length:18,lineStyle:{color:'#000',width:2.5},customValues:cbTicks},
  axisLabel:{...axisFont,margin:25,customValues:cbLabels,formatter:v=>(v<0?'\u2212':'')+Math.abs(v).toFixed(2)}});
yAxes.push({type:'value',gridIndex:4,min:0,max:1,show:false});
series.push({type:'custom',xAxisIndex:4,yAxisIndex:4,z:1,silent:true,animation:false,clip:false,data:cbLevels.map(v=>[v,0]),encode:{x:0,y:1},
  renderItem:(p,api)=>{const i=p.dataIndex,a=api.coord([cbLevels[i],1]),b=api.coord([i<cbLevels.length-1?cbLevels[i+1]:cbTop,0]);
    return{type:'rect',shape:{x:a[0],y:a[1],width:b[0]-a[0]+1,height:b[1]-a[1]},style:{fill:levelColors[i]}};}});
series.push({type:'custom',xAxisIndex:4,yAxisIndex:4,z:3,silent:true,animation:false,clip:false,data:[[-.3,0]],encode:{x:0,y:1},
  renderItem:(p,api)=>{const a=api.coord([-.3,1]),b=api.coord([cbTop,0]);return{type:'rect',shape:{x:a[0],y:a[1],width:b[0]-a[0],height:b[1]-a[1]},style:{fill:'none',stroke:'#000',lineWidth:4}};}});
graphic.push({type:'text',x:781,y:116,style:{text:'v',fontFamily:serif,fontStyle:'italic',fontSize:64,fill:'#000',verticalAlign:'middle'}});
graphic.push({type:'text',x:808,y:131,style:{text:'x',fontFamily:serif,fontStyle:'italic',fontSize:42,fill:'#000',verticalAlign:'middle'}});
graphic.push({type:'text',x:826,y:116,style:{text:'/u',fontFamily:serif,fontStyle:'italic',fontSize:64,fill:'#000',verticalAlign:'middle'}});

const chart=echarts.init(document.getElementById('c'),null,{width:3780,height:2241,renderer:'canvas'});
chart.setOption({backgroundColor:'#fff',animation:false,grid:grids,xAxis:xAxes,yAxis:yAxes,series,graphic});
</script></body></html>
